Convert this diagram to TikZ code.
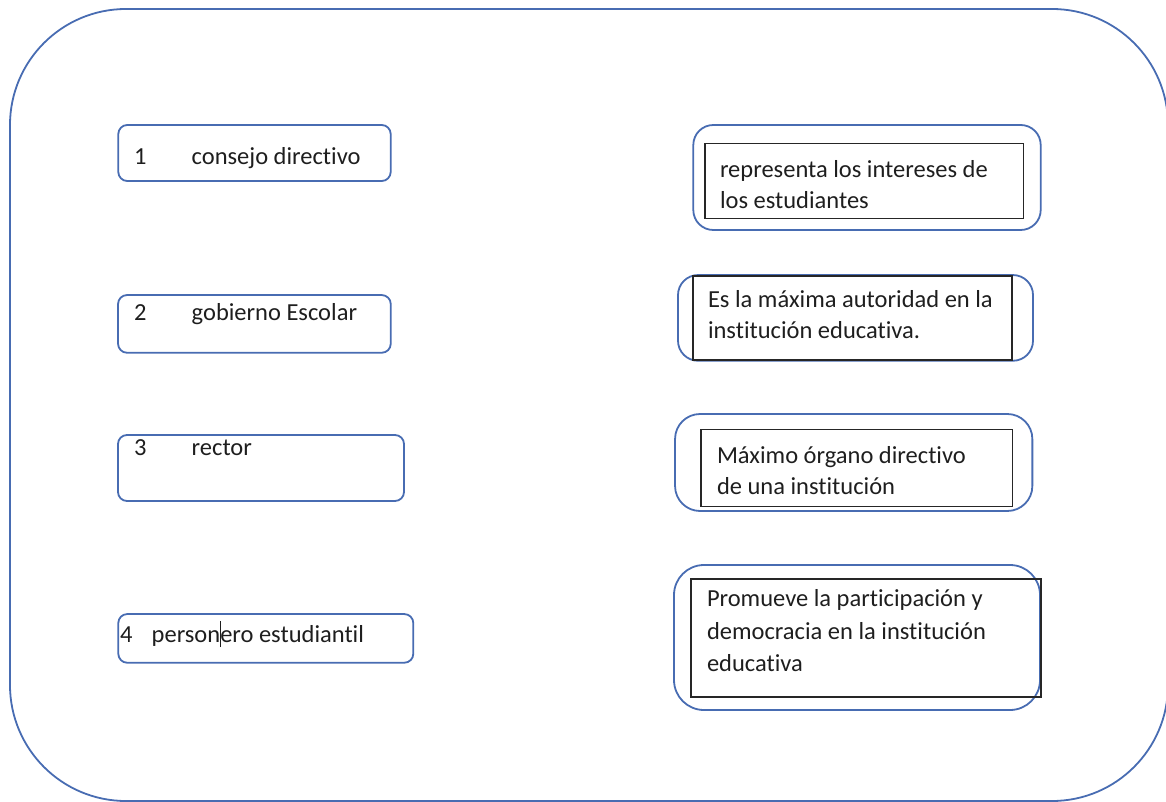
\documentclass[tikz,border=0pt]{standalone}
\usepackage{fontspec}
\setmainfont[Ligatures=NoCommon]{Carlito}
\definecolor{frameblue}{RGB}{72,108,178}
\definecolor{txt}{RGB}{30,30,30}
\begin{document}
\begin{tikzpicture}[x=1pt,y=-1pt,
  lbox/.style={draw=frameblue, line width=1.8pt, rounded corners=9pt, inner sep=0pt, outer sep=0pt},
  rbox/.style={draw=frameblue, line width=1.8pt, rounded corners=#1, inner sep=0pt, outer sep=0pt},
  ibox/.style={draw=black!85, line width=1.4pt, inner sep=0pt, outer sep=0pt},
  lbl/.style={anchor=base west, inner sep=0pt, outer sep=0pt, text=txt, font=\fontsize{24.5}{31}\selectfont}]
\useasboundingbox (0,0) rectangle (1166,802);
\begin{scope}
\clip (0,0) rectangle (1166,802);
\draw[frameblue, line width=1.8pt, rounded corners=116pt] (10,9) rectangle (1168,801);
\end{scope}
% left boxes
\node[lbox, minimum width=272.4pt, minimum height=56pt] (b1) at (254.5,153) {};
\node[lbox, minimum width=272.7pt, minimum height=57.7pt] (b2) at (254.4,323.9) {};
\node[lbox, minimum width=286pt, minimum height=66pt] (b3) at (261,468) {};
\node[lbox, minimum width=295pt, minimum height=48.7pt] (b4) at (265.8,638.4) {};
\node[lbl] (t1) at (134,165) {\makebox[57.7pt][l]{1}consejo directivo};
\node[lbl] (t2) at (134,320.7) {\makebox[57.7pt][l]{2}gobierno Escolar};
\node[lbl] (t3) at (134,455) {\makebox[57.7pt][l]{3}rector};
\node[lbl] (t4) at (120,642.7) {\makebox[31.7pt][l]{4}person\rlap{\hspace{-0.6pt}\rule[-4.3pt]{1.3pt}{26pt}}ero estudiantil};
% right boxes
\node[rbox=20pt, minimum width=347.4pt, minimum height=105pt] (r1) at (867,177.5) {};
\node[ibox, minimum width=318.3pt, minimum height=75pt] (i1) at (864.2,180.8) {};
\node[lbl] (l1a) at (720,177.3) {representa los intereses de};
\node[lbl] (l1b) at (720,208.3) {los estudiantes};

\node[rbox=20pt, minimum width=355pt, minimum height=85.7pt] (r2) at (855.5,317.9) {};
\node[ibox, minimum width=319pt, minimum height=84pt] (i2) at (852.5,318) {};
\node[lbl] (l2a) at (708,307.3) {Es la máxima autoridad en la};
\node[lbl] (l2b) at (708,338.3) {institución educativa.};

\node[rbox=25pt, minimum width=357.3pt, minimum height=97pt] (r3) at (853.7,462.5) {};
\node[ibox, minimum width=311.3pt, minimum height=77.4pt] (i3) at (856.7,468) {};
\node[lbl] (l3a) at (717,463.3) {Máximo órgano directivo};
\node[lbl] (l3b) at (717,494.3) {de una institución};

\node[rbox=30pt, minimum width=366pt, minimum height=145pt] (r4) at (857,637.5) {};
\node[ibox, minimum width=350pt, minimum height=118pt] (i4) at (866,638) {};
\node[lbl] (l4a) at (707,606) {Promueve la participación y};
\node[lbl] (l4b) at (707,639) {democracia en la institución};
\node[lbl] (l4c) at (707,671.7) {educativa};
\end{tikzpicture}
\end{document}
